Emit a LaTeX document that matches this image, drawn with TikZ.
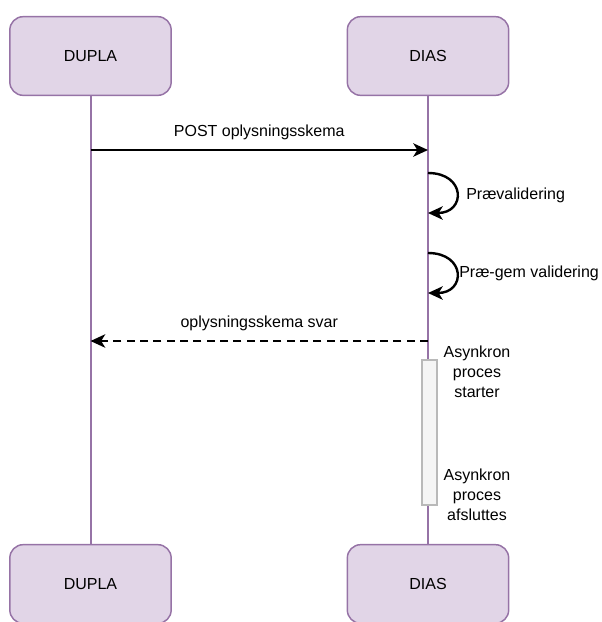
\documentclass[tikz,border=0pt]{standalone}
\usepackage{fontspec}
\setmainfont{Liberation Sans}
\usetikzlibrary{arrows.meta}
\definecolor{boxfill}{HTML}{E1D5E7}
\definecolor{boxline}{HTML}{9673A6}
\tikzset{
  actor/.style={draw=boxline, fill=boxfill, line width=1.1pt, rounded corners=10pt, minimum width=121pt, minimum height=59pt, font=\fontsize{12}{14}\selectfont, inner sep=0pt},
  lifeline/.style={draw=boxline, line width=1.5pt},
  msg/.style={draw=black, line width=1.8pt, -{Stealth[length=11pt,width=10pt,inset=3pt]}},
  lbl/.style={font=\fontsize{12}{15}\selectfont, inner sep=0pt},
  actbox/.style={draw=gray!55, fill=gray!8, line width=0.8pt}
}
\begin{document}
\begin{tikzpicture}[x=0.75pt,y=-0.75pt]
\useasboundingbox (0,0) rectangle (601,622);
% actors
\node[actor] (dupTop) at (90.5,56) {DUPLA};
\node[actor] (diaTop) at (428,56) {DIAS};
\node[actor] (dupBot) at (90.5,584) {DUPLA};
\node[actor] (diaBot) at (428,584) {DIAS};
% lifelines
\draw[lifeline] (dupTop.south) -- (dupBot.north);
\draw[lifeline] (diaTop.south) -- (diaBot.north);
% activation box
\draw[actbox] (422,360) rectangle (437,505);
% coordinates
\coordinate (a1) at (90.5,150);
\coordinate (b1) at (428,150);
\coordinate (l1s) at (428,173);
\coordinate (l1e) at (428,213);
\coordinate (l2s) at (428,253);
\coordinate (l2e) at (428,293);
\coordinate (b2) at (428,341);
\coordinate (a2) at (90.5,341);
% messages
\draw[msg] (a1) -- (b1) node[lbl, midway, above=7pt] {POST oplysningsskema};
\draw[msg] (l1s) .. controls (466,173) and (466,213) .. (l1e);
\node[lbl, anchor=west] (t1) at (466,195) {Prævalidering};
\draw[msg] (l2s) .. controls (466,253) and (466,293) .. (l2e);
\node[lbl, anchor=west] (t2) at (459,273) {Præ-gem validering};
\draw[msg, dash pattern=on 6pt off 4pt] (b2) -- (a2) node[lbl, midway, above=7pt] {oplysningsskema svar};
% async labels
\node[lbl, align=center] (s1) at (477,372) {Asynkron\\proces\\starter};
\node[lbl, align=center] (s2) at (477,495) {Asynkron\\proces\\afsluttes};
\end{tikzpicture}
\end{document}
